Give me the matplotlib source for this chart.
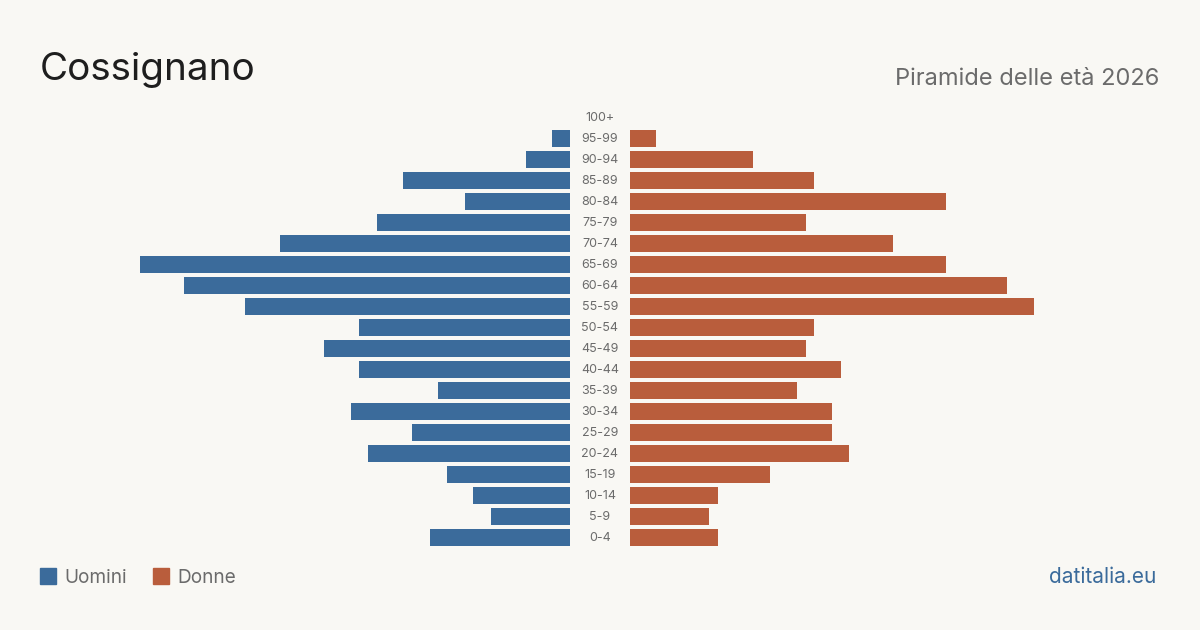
import matplotlib.pyplot as plt
from matplotlib import rcParams
from matplotlib.patches import Rectangle
import matplotlib.transforms as mtransforms

rcParams['font.family'] = ['Inter', 'DejaVu Sans']

# age classes, bottom to top
ages = ["0-4", "5-9", "10-14", "15-19", "20-24", "25-29", "30-34", "35-39",
        "40-44", "45-49", "50-54", "55-59", "60-64", "65-69", "70-74", "75-79",
        "80-84", "85-89", "90-94", "95-99", "100+"]
uomini = [16, 9, 11, 14, 23, 18, 25, 15, 24, 28, 24, 37, 44, 49, 33, 22, 12, 19, 5, 2, 0]
donne = [10, 9, 10, 16, 25, 23, 23, 19, 24, 20, 21, 46, 43, 36, 30, 20, 36, 21, 14, 3, 0]

bg = "#f9f8f4"
blue = "#3b6b9b"
orange = "#b95d3c"
W, H = 1200, 630

fig = plt.figure(figsize=(12, 6.3), dpi=100, facecolor=bg)

# axes geometry in pixels
row_top, row_bot, step = 117, 537, 21
ax_bottom = 1 - (row_bot + step / 2) / H
ax_height = (row_bot - row_top + step) / H
xmax = 49

ax_l = fig.add_axes([140 / W, ax_bottom, 430 / W, ax_height])
ax_r = fig.add_axes([630 / W, ax_bottom, 430 / W, ax_height])

y = list(range(len(ages)))
ax_l.barh(y, uomini, height=17 / 21, color=blue)
ax_r.barh(y, donne, height=17 / 21, color=orange)

ax_l.set_xlim(xmax, 0)
ax_r.set_xlim(0, xmax)
for ax in (ax_l, ax_r):
    ax.set_ylim(-0.5, len(ages) - 0.5)
    ax.set_facecolor("none")
    ax.axis("off")

# age labels in the gap
trans = mtransforms.blended_transform_factory(fig.transFigure, ax_r.transData)
for yi, lab in zip(y, ages):
    fig.text(600 / W, yi - 0.03, lab, transform=trans, ha="center", va="center",
             fontsize=9, color="#6b6b6b")

# titles
fig.text(40 / W, 1 - 80 / H, "Cossignano", fontsize=27.8, color="#1e1e1e",
         va="baseline", ha="left")
fig.text(1159 / W, 1 - 85 / H, "Piramide delle età 2026", fontsize=17,
         color="#6b6b6b", va="baseline", ha="right")

# legend
fig.patches.append(Rectangle((40 / W, 1 - 584 / H), 16 / W, 16 / H,
                             transform=fig.transFigure, color=blue))
fig.text(64 / W, 1 - 583 / H, "Uomini", fontsize=13.7, color="#6b6b6b",
         va="baseline", ha="left")
fig.patches.append(Rectangle((153 / W, 1 - 584 / H), 16 / W, 16 / H,
                             transform=fig.transFigure, color=orange))
fig.text(177 / W, 1 - 583 / H, "Donne", fontsize=13.7, color="#6b6b6b",
         va="baseline", ha="left")

fig.text(1156 / W, 1 - 583 / H, "datitalia.eu", fontsize=15, color=blue,
         va="baseline", ha="right")

fig.savefig("out.png", dpi=100, facecolor=bg)
